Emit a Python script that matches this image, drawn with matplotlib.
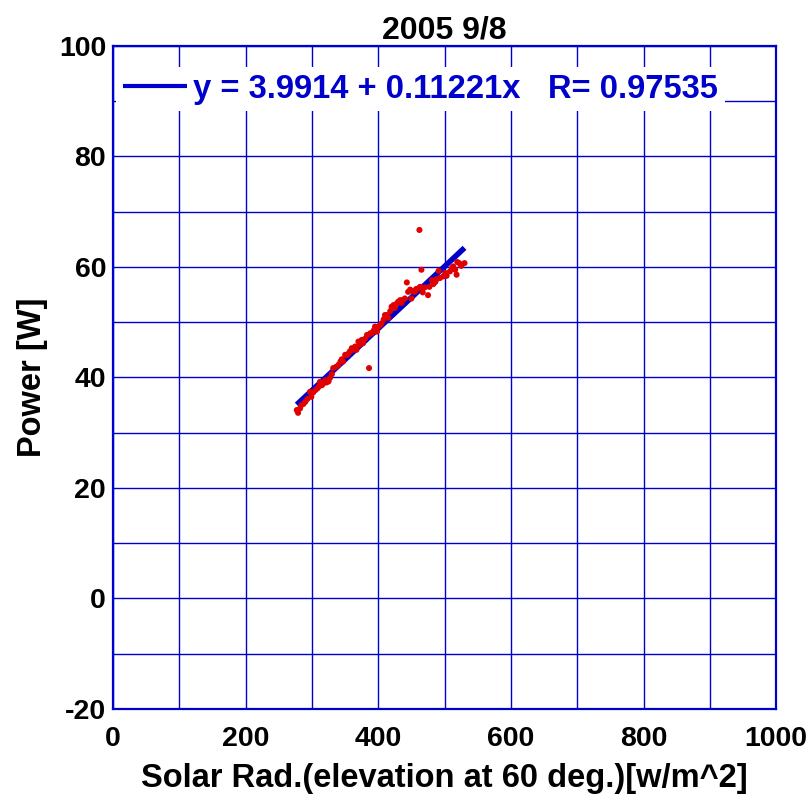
import matplotlib
matplotlib.use("Agg")
import matplotlib.pyplot as plt
import numpy as np
from matplotlib.ticker import MultipleLocator

plt.rcParams['font.family'] = ['Liberation Sans', 'DejaVu Sans']
plt.rcParams['font.weight'] = 'bold'
plt.rcParams['axes.unicode_minus'] = False

# Measured solar radiation [w/m^2] and panel power [W]
solar_rad = [277, 279, 282, 284, 287, 290, 293, 297, 299, 302, 305, 308, 310, 312,
             315, 317, 320, 322, 325, 327, 330, 332, 336, 340, 343, 345, 347, 350,
             352, 355, 357, 360, 362, 365, 367, 370, 372, 375, 377, 380, 383, 385,
             386, 388, 390, 393, 395, 398, 400, 403, 405, 408, 410, 413, 415, 418,
             420, 423, 425, 428, 430, 433, 435, 437, 440, 443, 445, 448, 450, 452,
             455, 457, 460, 462, 463, 465, 467, 470, 475, 477, 481, 483, 486, 488,
             491, 493, 498, 501, 503, 508, 511, 513, 516, 518, 519, 522, 525, 530]
power = [34.1, 33.6, 34.4, 35.0, 35.2, 35.6, 36.1, 37.4, 36.5, 37.3, 37.7, 38.0, 38.3, 39.2,
         38.6, 38.9, 39.5, 39.1, 39.3, 39.9, 40.6, 41.7, 41.9, 42.3, 42.9, 43.3, 42.9, 44.1,
         44.0, 44.3, 44.7, 45.3, 45.0, 45.6, 45.0, 46.5, 45.9, 46.8, 46.2, 47.0, 47.7, 47.7,
         41.7, 48.0, 48.0, 48.5, 49.2, 48.3, 49.2, 49.5, 49.8, 50.5, 51.3, 51.3, 50.8, 52.0,
         52.8, 53.1, 52.6, 53.4, 53.7, 54.0, 53.5, 54.0, 54.3, 57.2, 55.5, 55.9, 54.3, 55.6,
         55.5, 56.0, 56.1, 66.7, 56.4, 59.5, 55.4, 56.3, 54.9, 56.4, 57.6, 56.9, 57.3, 57.8,
         59.3, 58.0, 58.3, 58.9, 58.4, 59.2, 59.8, 60.1, 59.5, 58.6, 60.9, 60.7, 60.2, 60.7]

# Least-squares fit reported in the legend
intercept = 3.9914
slope = 0.11221
r_value = 0.97535
fit_x = [min(solar_rad), max(solar_rad)]

x_ticks = [0, 200, 400, 600, 800, 1000]
y_ticks = [-20, 0, 20, 40, 60, 80, 100]

blue = '#0000cc'

fig = plt.figure(figsize=(8.09, 8.01), dpi=100)
ax = fig.add_axes([0.1397, 0.1149, 0.8198, 0.8277])

fit_y = [intercept + slope * v for v in fit_x]
ax.plot(fit_x, fit_y, color=blue, lw=4.0, solid_capstyle='butt', zorder=3,
        label=f'y = {intercept} + {slope}x   R= {r_value}')
ax.scatter(solar_rad, power, s=19, color='#e00000', edgecolors='none', zorder=4)

ax.set_xlim(0, 1000)
ax.set_ylim(-20, 100)
ax.set_xticks(x_ticks)
ax.set_yticks(y_ticks)
ax.xaxis.set_minor_locator(MultipleLocator(100))
ax.yaxis.set_minor_locator(MultipleLocator(10))
ax.grid(True, which='both', color=blue, lw=1.0, zorder=1)
ax.set_axisbelow(True)
ax.tick_params(which='both', length=0, labelsize=20.5)
ax.tick_params(axis='y', pad=5)
ax.tick_params(axis='x', pad=12)
for lbl in ax.get_xticklabels() + ax.get_yticklabels():
    lbl.set_fontweight('bold')
for sp in ax.spines.values():
    sp.set_color(blue)
    sp.set_linewidth(1.6)

ax.set_title('2005 9/8', fontsize=23, fontweight='bold', pad=5)
ax.set_xlabel('Solar Rad.(elevation at 60 deg.)[w/m^2]', fontsize=23.5,
              fontweight='bold', labelpad=8)
ax.set_ylabel('Power [W]', fontsize=23.5, fontweight='bold', labelpad=8)

leg = ax.legend(loc='upper left', bbox_to_anchor=(0.005, 0.968), borderaxespad=0,
                borderpad=0.2, handlelength=1.95, handletextpad=0.2,
                frameon=True, framealpha=1, fancybox=False, edgecolor='none',
                prop={'size': 23.6, 'weight': 'bold'})
for t in leg.get_texts():
    t.set_color(blue)
leg.get_lines()[0].set_linewidth(3)
leg.set_zorder(5)

fig.savefig('out.png', dpi=100)
